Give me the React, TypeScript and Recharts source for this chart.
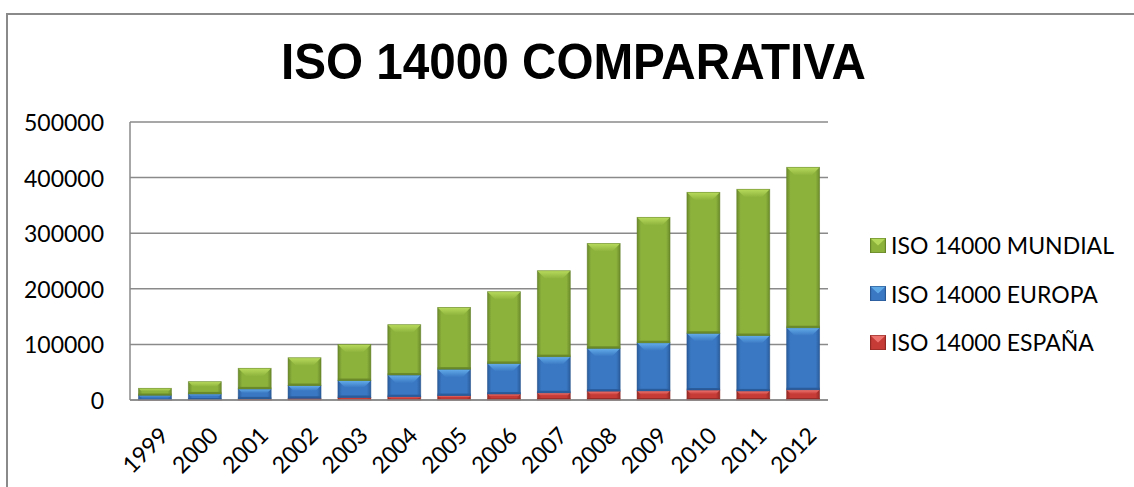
import { Bar, BarChart, CartesianGrid, XAxis, YAxis } from 'recharts';

const YEARS = ['1999', '2000', '2001', '2002', '2003', '2004', '2005', '2006', '2007', '2008', '2009', '2010', '2011', '2012'];
const ESPANA = [600, 1000, 2000, 3000, 4500, 6000, 8000, 10800, 13000, 16000, 16500, 18000, 16300, 18500];
const EUROPA = [8000, 10000, 18000, 23000, 30500, 39000, 47500, 55000, 65000, 77000, 86500, 102000, 99700, 111500];
const MUNDIAL = [12400, 22000, 37000, 50000, 65000, 90500, 111000, 129000, 154500, 188500, 225500, 253500, 263000, 288500];
const Y_TICKS = [0, 100000, 200000, 300000, 400000, 500000];

const data = YEARS.map((year, i) => ({
  year,
  espana: ESPANA[i],
  europa: EUROPA[i],
  mundial: MUNDIAL[i],
}));

const PAL = {
  green: { id: 'g', base: '#8db23c', light: '#b8db5c', dark: '#6a8a2a', edge: '#5f7d24' },
  blue: { id: 'b', base: '#3a78c3', light: '#64aeea', dark: '#2a5c9c', edge: '#24528c' },
  red: { id: 'r', base: '#c63b36', light: '#f27a76', dark: '#962a26', edge: '#8a2622' },
};

type Pal = typeof PAL.green;

// legend order, top to bottom (reverse of the stack)
const SERIES = [
  { key: 'mundial', name: 'ISO 14000 MUNDIAL', pal: PAL.green },
  { key: 'europa', name: 'ISO 14000 EUROPA', pal: PAL.blue },
  { key: 'espana', name: 'ISO 14000 ESPAÑA', pal: PAL.red },
];

const FONT = 'Lato, "Liberation Sans", sans-serif';

function BevelBar(props: any) {
  const { x, y, width, height, pal } = props as { x: number; y: number; width: number; height: number; pal: Pal };
  if (!height || height <= 0) return null;
  const b = Math.min(8, height / 2.4, width / 3);
  return (
    <g>
      <rect x={x} y={y} width={width} height={height} fill={`url(#h-${pal.id})`} />
      <polygon
        points={`${x},${y} ${x + width},${y} ${x + width - b},${y + b} ${x + b},${y + b}`}
        fill={`url(#v-${pal.id})`}
      />
      <rect x={x} y={y + height - Math.min(2, height / 4)} width={width} height={Math.min(2, height / 4)} fill={pal.dark} />
      <rect x={x} y={y} width={width} height={height} fill="none" stroke={pal.edge} strokeOpacity={0.6} strokeWidth={0.8} />
    </g>
  );
}

function YTick(props: any) {
  const { y, payload } = props;
  return (
    <text x={104} y={y} textAnchor="end" dominantBaseline="central" fontFamily={FONT} fontSize={23} fill="#000">
      {payload.value}
    </text>
  );
}

function XTick(props: any) {
  const { x, y, payload } = props;
  const ax = x + 15;
  const ay = y + 29;
  return (
    <text
      x={ax}
      y={ay}
      textAnchor="end"
      transform={`rotate(-45, ${ax}, ${ay})`}
      fontFamily={FONT}
      fontSize={23}
      fill="#000"
    >
      {payload.value}
    </text>
  );
}

function ChartLegend() {
  return (
    <div style={{ position: 'absolute', left: 870, top: 221, fontFamily: FONT, fontSize: 23, color: '#000' }}>
      {SERIES.map((s) => (
        <div key={s.key} style={{ display: 'flex', alignItems: 'center', height: 48.5 }}>
          <svg width={16} height={15} style={{ marginRight: 5 }}>
            <rect x={0} y={0} width={16} height={15} fill={`url(#h-${s.pal.id})`} />
            <polygon points="0,0 16,0 8,7.5" fill={s.pal.light} opacity={0.9} />
            <rect x={0.5} y={0.5} width={15} height={14} fill="none" stroke={s.pal.edge} strokeOpacity={0.6} />
          </svg>
          <span style={{ whiteSpace: 'nowrap' }}>{s.name}</span>
        </div>
      ))}
    </div>
  );
}

export default function App() {
  return (
    <div style={{ position: 'absolute', left: 0, top: 0, width: 1134, height: 487, background: '#fff', overflow: 'hidden' }}>
      <svg width={0} height={0} style={{ position: 'absolute' }}>
        <defs>
          {Object.values(PAL).map((p) => (
            <linearGradient key={`h-${p.id}`} id={`h-${p.id}`} x1="0" y1="0" x2="1" y2="0">
              <stop offset="0" stopColor={p.dark} />
              <stop offset="0.12" stopColor={p.base} />
              <stop offset="0.88" stopColor={p.base} />
              <stop offset="1" stopColor={p.dark} />
            </linearGradient>
          ))}
          {Object.values(PAL).map((p) => (
            <linearGradient key={`v-${p.id}`} id={`v-${p.id}`} x1="0" y1="0" x2="0" y2="1">
              <stop offset="0" stopColor={p.light} />
              <stop offset="1" stopColor={p.base} />
            </linearGradient>
          ))}
        </defs>
      </svg>
      <div
        style={{
          position: 'absolute',
          left: 6,
          top: 13,
          width: 1200,
          height: 600,
          borderLeft: '2px solid #8a8a8a',
          borderTop: '2px solid #8a8a8a',
        }}
      />
      <svg width={1134} height={100} style={{ position: 'absolute', left: 0, top: 0 }}>
        <text
          x={573.5}
          y={79}
          textAnchor="middle"
          fontFamily='"Liberation Sans", Arial, sans-serif'
          fontWeight="bold"
          fontSize={50}
          textLength={585}
          lengthAdjust="spacingAndGlyphs"
          fill="#000"
        >
          ISO 14000 COMPARATIVA
        </text>
      </svg>
      <div style={{ position: 'absolute', left: 0, top: 0 }}>
        <BarChart
          width={1134}
          height={487}
          data={data}
          margin={{ top: 122, right: 306, bottom: 0, left: 0 }}
          barCategoryGap="17%"
        >
          <CartesianGrid vertical={false} stroke="#8a8a8a" strokeWidth={1.5} />
          <XAxis
            dataKey="year"
            height={87}
            interval={0}
            tickLine={false}
            axisLine={{ stroke: '#8a8a8a', strokeWidth: 1.5 }}
            tick={<XTick />}
          />
          <YAxis
            width={130}
            domain={[0, 500000]}
            ticks={Y_TICKS}
            tickLine={false}
            axisLine={{ stroke: '#8a8a8a', strokeWidth: 1.5 }}
            tick={<YTick />}
          />
          {SERIES.slice().reverse().map((s) => (
            <Bar
              key={s.key}
              dataKey={s.key}
              name={s.name}
              stackId="a"
              fill={s.pal.base}
              isAnimationActive={false}
              shape={(p: any) => <BevelBar {...p} pal={s.pal} />}
            />
          ))}
        </BarChart>
      </div>
      <ChartLegend />
    </div>
  );
}
